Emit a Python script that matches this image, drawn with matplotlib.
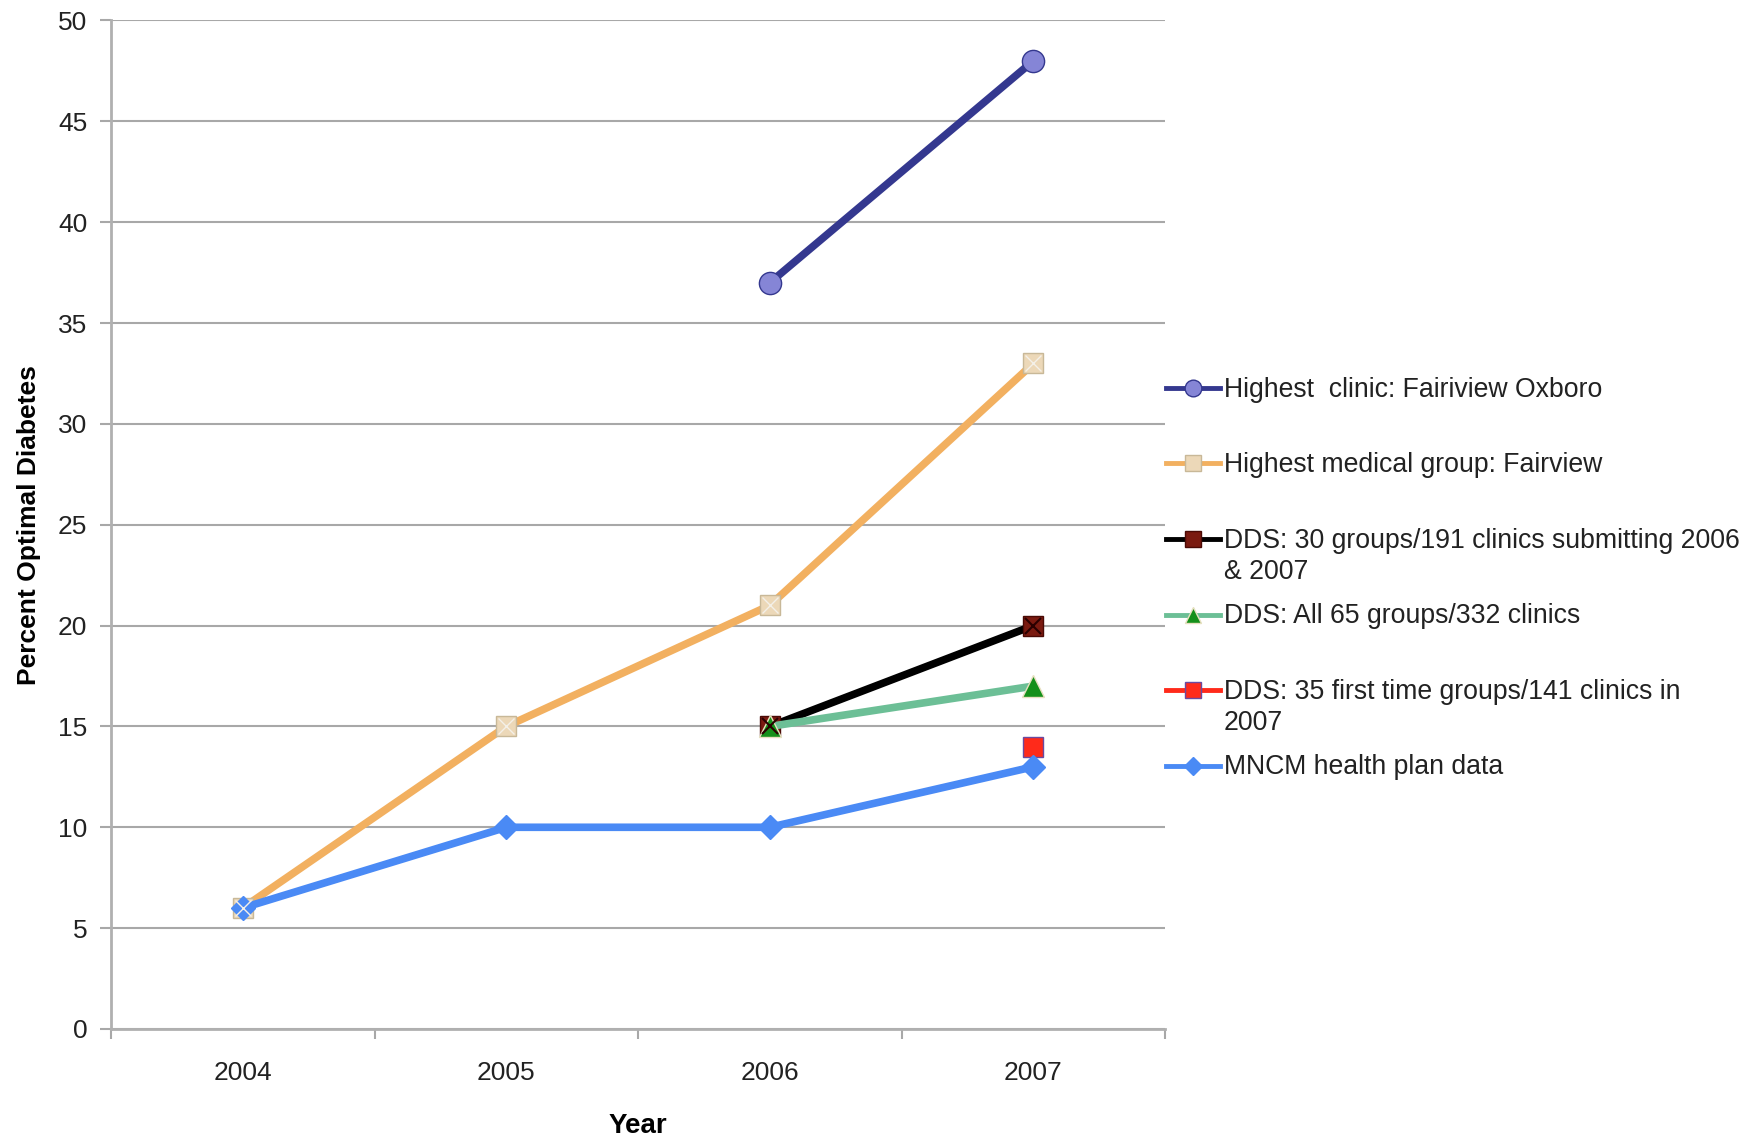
import matplotlib
matplotlib.use("Agg")
import matplotlib.pyplot as plt
from matplotlib.lines import Line2D
import numpy as np

plt.rcParams['font.family'] = ['Liberation Sans', 'DejaVu Sans']

years = ['2004', '2005', '2006', '2007']
nan = np.nan

clinic_oxboro = [nan, nan, 37, 48]
group_fairview = [6, 15, 21, 33]
dds_30_groups = [nan, nan, 15, 20]
dds_all_65 = [nan, nan, 15, 17]
dds_35_first = [nan, nan, nan, 14]
mncm_plan = [6, 10, 10, 13]

labels = [
    'Highest  clinic: Fairiview Oxboro',
    'Highest medical group: Fairview',
    'DDS: 30 groups/191 clinics submitting 2006\n& 2007',
    'DDS: All 65 groups/332 clinics',
    'DDS: 35 first time groups/141 clinics in\n2007',
    'MNCM health plan data',
]

styles = [
    dict(color='#34388f', marker='o', markerfacecolor='#8585d6', markeredgecolor='#34388f', markersize=16),
    dict(color='#f2b060', marker='s', markerfacecolor='#ecd8b8', markeredgecolor='#c8b898', markersize=15),
    dict(color='#000000', marker='s', markerfacecolor='#7a1a10', markeredgecolor='#4a0a05', markersize=15),
    dict(color='#6cbf96', marker='^', markerfacecolor='#14901a', markeredgecolor='#e8e0c0', markersize=16),
    dict(color='#ff2a1a', marker='s', markerfacecolor='#ff2a1a', markeredgecolor='#6a4aa0', markersize=15),
    dict(color='#4a8af5', marker='D', markerfacecolor='#4a8af5', markeredgecolor='#4a8af5', markersize=12),
]
series = [clinic_oxboro, group_fairview, dds_30_groups, dds_all_65, dds_35_first, mncm_plan]

fig = plt.figure(figsize=(17.47, 11.36), dpi=100)
ax = fig.add_axes([0.0635, 0.0942, 0.6035, 0.8878])

x = np.arange(len(years))
for vals, st in zip(series, styles):
    ax.plot(x, vals, linewidth=5.5, solid_capstyle='round', zorder=3, **st)
# x marks on the square markers
ax.plot(x, group_fairview, linestyle='none', marker='x', color='#f4f0e8', markersize=11, zorder=4)
ax.plot(x, dds_30_groups, linestyle='none', marker='x', color='#2a0000', markersize=12, markeredgewidth=1.5, zorder=4)

ax.set_xlim(-0.5, 3.5)
ax.set_ylim(0, 50)
ax.set_yticks(range(0, 51, 5))
ax.set_xticks(x)
ax.set_xticklabels(years)
ax.set_xticks(np.arange(-0.5, 3.6, 1), minor=True)
ax.grid(axis='y', color='#a8a8a8', linewidth=1.5, zorder=0)

for s in ['top', 'right']:
    ax.spines[s].set_visible(False)
for s in ['left', 'bottom']:
    ax.spines[s].set_color('#b0b0b0')
    ax.spines[s].set_linewidth(2)

ax.tick_params(axis='y', length=8, width=1.5, color='#a8a8a8', labelsize=19, pad=9,
               labelcolor='#222222')
ax.tick_params(axis='x', which='major', length=0, labelsize=19, pad=23, labelcolor='#222222')
ax.tick_params(axis='x', which='minor', length=7, width=1.5, color='#a8a8a8')

ax.set_ylabel('Percent Optimal Diabetes', fontsize=19, fontweight='bold', labelpad=12)
ax.set_xlabel('Year', fontsize=20, fontweight='bold', labelpad=20)

# legend drawn at figure level
y0 = 1 - 388 / 1136
step = 75.5 / 1136
x_line = (1166 / 1747, 1220 / 1747)
for i, (lab, st) in enumerate(zip(labels, styles)):
    yy = y0 - i * step
    kw = dict(st)
    kw['markersize'] = kw['markersize'] * 0.75
    h = Line2D([x_line[0], (x_line[0] + x_line[1]) / 2, x_line[1]], [yy, yy, yy],
               linewidth=3.5, transform=fig.transFigure, markevery=[1], **kw)
    fig.add_artist(h)
    fig.text(1224 / 1747, yy + 11 / 1136, lab, fontsize=19.2, va='top', ha='left',
             color='#222222', linespacing=1.25)

fig.savefig('out.png', dpi=100)
